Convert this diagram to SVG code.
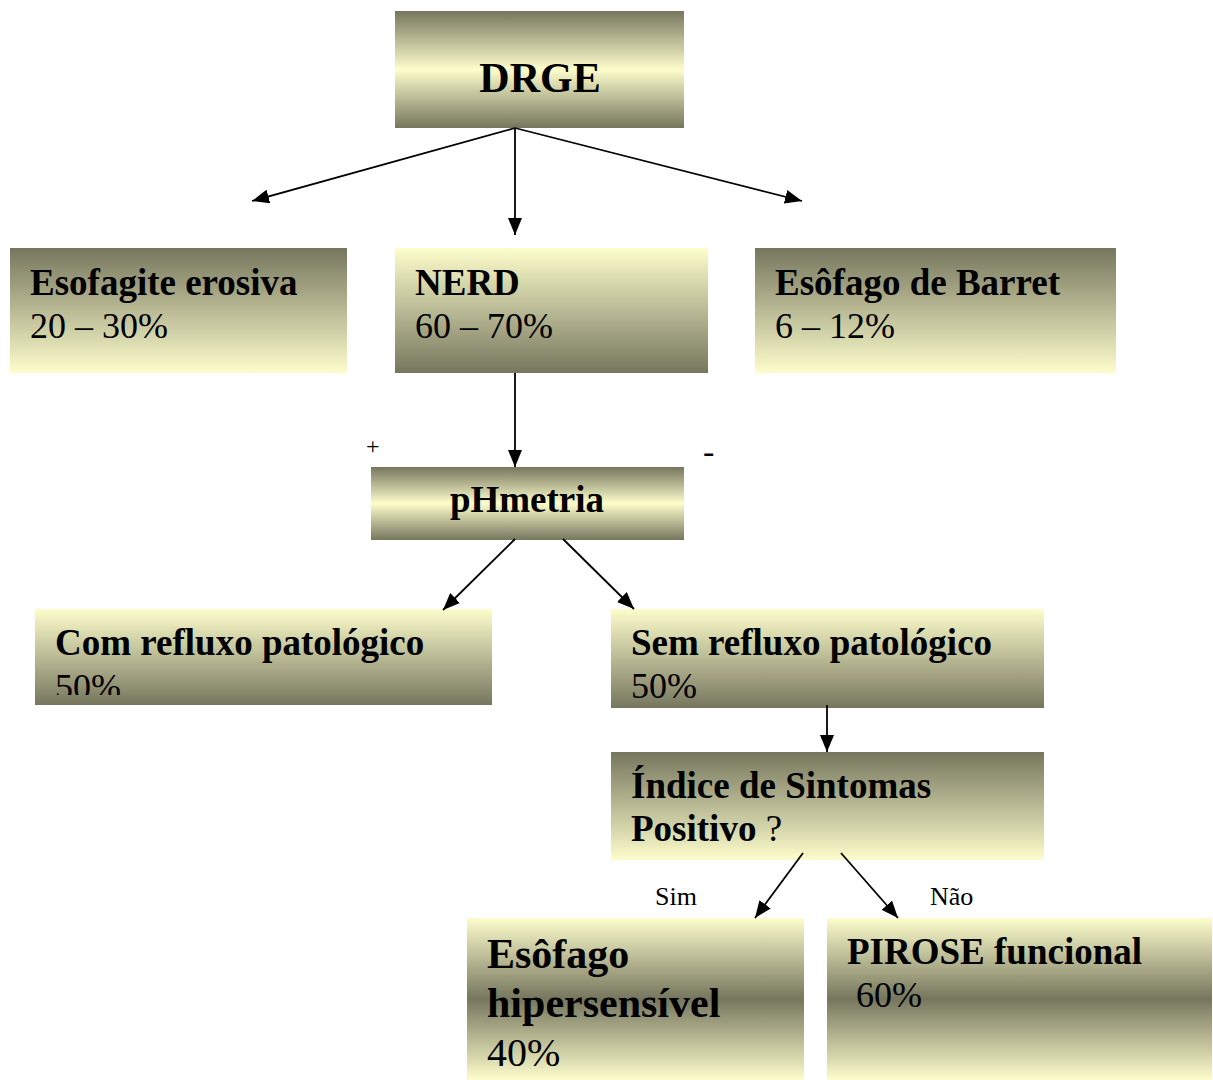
<svg xmlns="http://www.w3.org/2000/svg" width="1213" height="1080" viewBox="0 0 1213 1080">
  <style>
    .b { font-family: "Liberation Serif", "Times New Roman", serif; font-weight: bold; fill: #000; }
    .r { font-family: "Liberation Serif", "Times New Roman", serif; font-weight: normal; fill: #000; }
    .lnk { stroke: #000; stroke-width: 1.8; fill: none; marker-end: url(#head); }
  </style>
  <defs>
    <!-- dark top and bottom, light band in the middle -->
    <linearGradient id="gMid" x1="0" y1="0" x2="0" y2="1">
      <stop offset="0" stop-color="#76765e"/>
      <stop offset="0.5" stop-color="#fdfdcc"/>
      <stop offset="1" stop-color="#76765e"/>
    </linearGradient>
    <!-- light top and bottom, dark band in the middle -->
    <linearGradient id="gDarkMid" x1="0" y1="0" x2="0" y2="1">
      <stop offset="0" stop-color="#fdfdcc"/>
      <stop offset="0.5" stop-color="#76765e"/>
      <stop offset="1" stop-color="#fdfdcc"/>
    </linearGradient>
    <!-- dark at top, light at bottom -->
    <linearGradient id="gDown" x1="0" y1="0" x2="0" y2="1">
      <stop offset="0" stop-color="#76765e"/>
      <stop offset="1" stop-color="#fdfdcc"/>
    </linearGradient>
    <!-- light at top, dark at bottom -->
    <linearGradient id="gUp" x1="0" y1="0" x2="0" y2="1">
      <stop offset="0" stop-color="#fdfdcc"/>
      <stop offset="1" stop-color="#76765e"/>
    </linearGradient>
    <marker id="head" markerUnits="userSpaceOnUse" markerWidth="18" markerHeight="14" refX="17" refY="7" orient="auto">
      <path d="M0,0 L17,7 L0,14 z" fill="#000"/>
    </marker>
    <!-- the second line of this box is cut off above the box bottom -->
    <clipPath id="clipCom"><rect x="35" y="609" width="457" height="86"/></clipPath>
  </defs>

  <g id="drge">
    <rect x="395" y="11" width="289" height="117" fill="url(#gMid)"/>
    <text class="b" x="540" y="92" font-size="42" text-anchor="middle">DRGE</text>
  </g>

  <g id="esofagite">
    <rect x="10" y="248" width="337" height="125" fill="url(#gDown)"/>
    <text class="b" x="30" y="295" font-size="37">Esofagite erosiva</text>
    <text class="r" x="30" y="338" font-size="36">20 – 30%</text>
  </g>

  <g id="nerd">
    <rect x="395" y="248" width="313" height="125" fill="url(#gUp)"/>
    <text class="b" x="415" y="295" font-size="37">NERD</text>
    <text class="r" x="415" y="338" font-size="36">60 – 70%</text>
  </g>

  <g id="barret">
    <rect x="755" y="248" width="361" height="125" fill="url(#gDown)"/>
    <text class="b" x="775" y="295" font-size="37">Esôfago de Barret</text>
    <text class="r" x="775" y="338" font-size="36">6 – 12%</text>
  </g>

  <g id="phmetria">
    <rect x="371" y="467" width="313" height="73" fill="url(#gMid)"/>
    <text class="b" x="527" y="512" font-size="37" text-anchor="middle">pHmetria</text>
  </g>

  <g id="sinais">
    <text class="r" x="366" y="454" font-size="24">+</text>
    <text class="r" x="703" y="463" font-size="34">-</text>
  </g>

  <g id="com-refluxo">
    <rect x="35" y="609" width="457" height="96" fill="url(#gUp)"/>
    <g clip-path="url(#clipCom)">
      <text class="b" x="55" y="655" font-size="37">Com refluxo patológico</text>
      <text class="r" x="55" y="699" font-size="36">50%</text>
    </g>
  </g>

  <g id="sem-refluxo">
    <rect x="611" y="609" width="433" height="99" fill="url(#gUp)"/>
    <text class="b" x="631" y="655" font-size="37">Sem refluxo patológico</text>
    <text class="r" x="631" y="698" font-size="36">50%</text>
  </g>

  <g id="indice">
    <rect x="611" y="752" width="433" height="108" fill="url(#gDown)"/>
    <text class="b" x="631" y="798" font-size="37">Índice de Sintomas</text>
    <text x="631" y="841" font-size="37"><tspan class="b">Positivo</tspan><tspan class="r"> ?</tspan></text>
  </g>

  <g id="respostas">
    <text class="r" x="655" y="905" font-size="26">Sim</text>
    <text class="r" x="930" y="905" font-size="26">Não</text>
  </g>

  <g id="hipersensivel">
    <rect x="467" y="918" width="337" height="162" fill="url(#gDarkMid)"/>
    <text class="b" x="487" y="968" font-size="42">Esôfago</text>
    <text class="b" x="487" y="1017" font-size="42">hipersensível</text>
    <text class="r" x="487" y="1066" font-size="40">40%</text>
  </g>

  <g id="pirose">
    <rect x="827" y="918" width="385" height="162" fill="url(#gDarkMid)"/>
    <text class="b" x="847" y="964" font-size="37">PIROSE funcional</text>
    <text class="r" x="856" y="1007" font-size="36">60%</text>
  </g>

  <g id="connectors">
    <line class="lnk" x1="515" y1="128" x2="252" y2="201"/>
    <line class="lnk" x1="515" y1="128" x2="515" y2="235"/>
    <line class="lnk" x1="515" y1="128" x2="802" y2="201"/>
    <line class="lnk" x1="515" y1="373" x2="515" y2="467"/>
    <line class="lnk" x1="515" y1="539" x2="443" y2="610"/>
    <line class="lnk" x1="563" y1="539" x2="634" y2="609"/>
    <line class="lnk" x1="827" y1="705" x2="827" y2="752"/>
    <line class="lnk" x1="803" y1="853" x2="755" y2="918"/>
    <line class="lnk" x1="841" y1="853" x2="898" y2="918"/>
  </g>
</svg>
